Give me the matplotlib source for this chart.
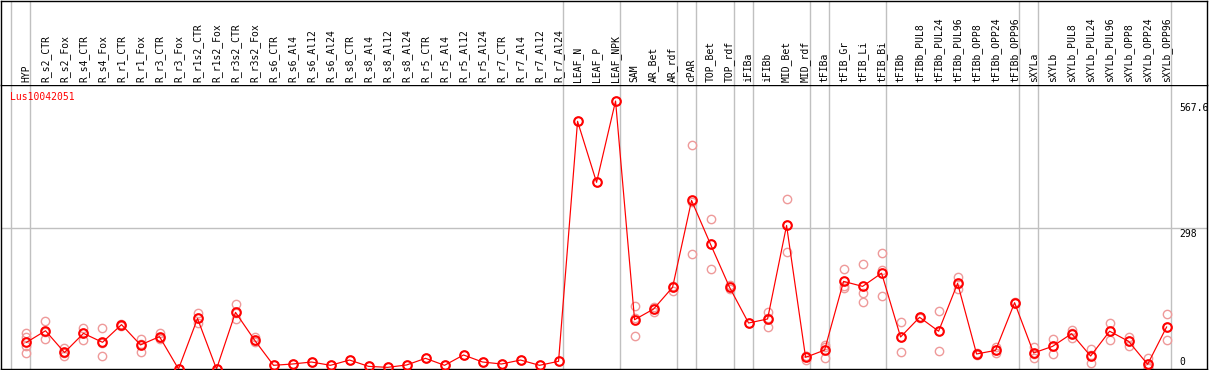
import matplotlib
matplotlib.use('Agg')
import matplotlib.pyplot as plt
from matplotlib.transforms import blended_transform_factory

# sample names along the top
samples = ['HYP', 'R_s2_CTR', 'R_s2_Fox', 'R_s4_CTR', 'R_s4_Fox', 'R_r1_CTR', 'R_r1_Fox',
           'R_r3_CTR', 'R_r3_Fox', 'R_r1s2_CTR', 'R_r1s2_Fox', 'R_r3s2_CTR', 'R_r3s2_Fox',
           'R_s6_CTR', 'R_s6_Al4', 'R_s6_Al12', 'R_s6_Al24', 'R_s8_CTR', 'R_s8_Al4',
           'R_s8_Al12', 'R_s8_Al24', 'R_r5_CTR', 'R_r5_Al4', 'R_r5_Al12', 'R_r5_Al24',
           'R_r7_CTR', 'R_r7_Al4', 'R_r7_Al12', 'R_r7_Al24', 'LEAF_N', 'LEAF_P', 'LEAF_NPK',
           'SAM', 'AR_Bet', 'AR_rdf', 'cPAR', 'TOP_Bet', 'TOP_rdf', 'iFIBa', 'iFIBb',
           'MID_Bet', 'MID_rdf', 'tFIBa', 'tFIB_Gr', 'tFIB_Li', 'tFIB_Bi', 'tFIBb',
           'tFIBb_PUL8', 'tFIBb_PUL24', 'tFIBb_PUL96', 'tFIBb_OPP8', 'tFIBb_OPP24',
           'tFIBb_OPP96', 'sXYLa', 'sXYLb', 'sXYLb_PUL8', 'sXYLb_PUL24', 'sXYLb_PUL96',
           'sXYLb_OPP8', 'sXYLb_OPP24', 'sXYLb_OPP96']

# mean expression per sample
means = [56.5, 81, 35, 75.5, 56.5, 94, 51, 68.5, 0, 107, 0, 120, 61.4,
         7.8, 10.6, 14.8, 7.8, 19, 5.6, 3.5, 8.5, 22.6, 7.8, 29.7, 14.8, 10.6, 19, 7.8, 16.3,
         524.7, 395.4, 567.6,
         104.4, 127, 173, 357, 264, 173, 97.4, 106, 304, 24.7, 40, 185.6, 175, 203,
         67.8, 109.5, 80, 181.5, 31.8, 39.5, 140.5,
         34, 48, 74.8, 27.5, 80, 58.6, 9.9, 89]

# individual replicates (pink circles)
replicates = [[77, 68, 49, 33], [101, 79, 63], [44, 33, 28], [87, 77, 61], [86, 56, 27.5],
              [96, 94, 92], [64, 52, 36], [76, 66, 64], [0], [118, 107, 97], [0],
              [137.7, 118, 105], [68, 60, 57],
              [7.8], [10.6], [14.8], [7.8], [19], [5.6], [3.5], [8.5], [22.6], [7.8],
              [29.7], [14.8], [10.6], [19], [7.8], [16.3],
              [524.7], [395.4], [567.6],
              [132.8, 107, 69.3], [132, 128, 120], [176, 173, 165], [473.8, 354, 243],
              [317, 264, 211], [177.6, 173, 169], [97.4], [120, 108, 89.7],
              [359.5, 305, 247], [27, 28, 19], [51, 46, 22.6], [211, 175, 171],
              [222, 160, 141], [245, 209.7, 154.6],
              [99, 68, 36], [111, 109.5, 108], [122, 80, 38], [195, 181, 169],
              [34, 31, 30], [45.7, 40, 33], [141, 140.5, 140],
              [47, 32, 22.6], [63.5, 48, 32.5], [81.9, 75.8, 66.7], [41.6, 29, 12],
              [97.4, 80.6, 62], [67, 59, 49.6], [22.6, 5, 2], [116, 90, 60.8]]

# first sample of each tissue group (grey separators)
group_starts = [0, 1, 29, 32, 35, 36, 38, 39, 42, 43, 46, 53, 54, 61]

gene = 'Lus10042051'
ymax_label = 567.6
ymid_label = 298

# layout in pixels
W, H = 1209, 370
HEAD_BOT = 85
PLOT_BOT = 369
RIGHT = 1207
X0 = 26
DX = 19.01
PX_PER_UNIT = 0.4721

FONT = 'DejaVu Sans Mono'
GREY = '#c0c0c0'
RED = '#ff0000'
PINK = '#ee9a9a'
PX = 0.72  # one pixel in points

fig = plt.figure(figsize=(W / 100, H / 100), dpi=100)
ax = fig.add_axes([0.5 / W, (H - PLOT_BOT) / H, (RIGHT - 0.5) / W, (PLOT_BOT - HEAD_BOT) / H])
hx = fig.add_axes([0.5 / W, (H - HEAD_BOT) / H, (RIGHT - 0.5) / W, (HEAD_BOT - 0.5) / H], sharex=ax)

ax.set_xlim(-X0 / DX, (RIGHT - X0) / DX)
ax.set_ylim(0, (PLOT_BOT - HEAD_BOT) / PX_PER_UNIT)
hx.set_ylim(0, HEAD_BOT)

for a in (ax, hx):
    a.set_xticks([])
    a.set_yticks([])
    for s in a.spines.values():
        s.set_color('black')
        s.set_linewidth(1.4 * PX)
hx.spines['bottom'].set_visible(False)

# group separators
for b in group_starts:
    for a in (ax, hx):
        a.axvline(b - 15 / DX, color=GREY, lw=1.4 * PX, zorder=0)
ax.axhline(ymid_label, color=GREY, lw=1.4 * PX, zorder=0)

# sample labels
for i, name in enumerate(samples):
    hx.text(i, 3, name, rotation=90, ha='center', va='bottom',
            fontsize=7, family=FONT, color='black')

# replicates
for i, reps in enumerate(replicates):
    ax.plot([i] * len(reps), reps, linestyle='none', marker='o', markersize=6,
            markerfacecolor='none', markeredgecolor=PINK, markeredgewidth=1.0, zorder=2)

# mean line
x = list(range(len(means)))
ax.plot(x, means, color=RED, lw=1.2 * PX, marker='o', markersize=6.2,
        markerfacecolor='none', markeredgecolor=RED, markeredgewidth=1.5, zorder=3)

# y labels at the right
tr = blended_transform_factory(ax.transAxes, ax.transData)
xl = (1179 - 0.5) / (RIGHT - 0.5)
ax.text(xl, ymax_label - 2 / PX_PER_UNIT, f'{ymax_label}', transform=tr, ha='left', va='top',
        fontsize=7, family=FONT, color='black')
ax.text(xl, ymid_label - 1 / PX_PER_UNIT, f'{ymid_label}', transform=tr, ha='left', va='top',
        fontsize=7, family=FONT, color='black')
ax.text(xl, 2 / PX_PER_UNIT, '0', transform=tr, ha='left', va='bottom',
        fontsize=7, family=FONT, color='black')

# gene id
ax.text(10 / RIGHT, 1 - 7 / (PLOT_BOT - HEAD_BOT), gene, transform=ax.transAxes,
        ha='left', va='top', fontsize=7, family=FONT, color=RED)

fig.savefig('out.png', dpi=100)
